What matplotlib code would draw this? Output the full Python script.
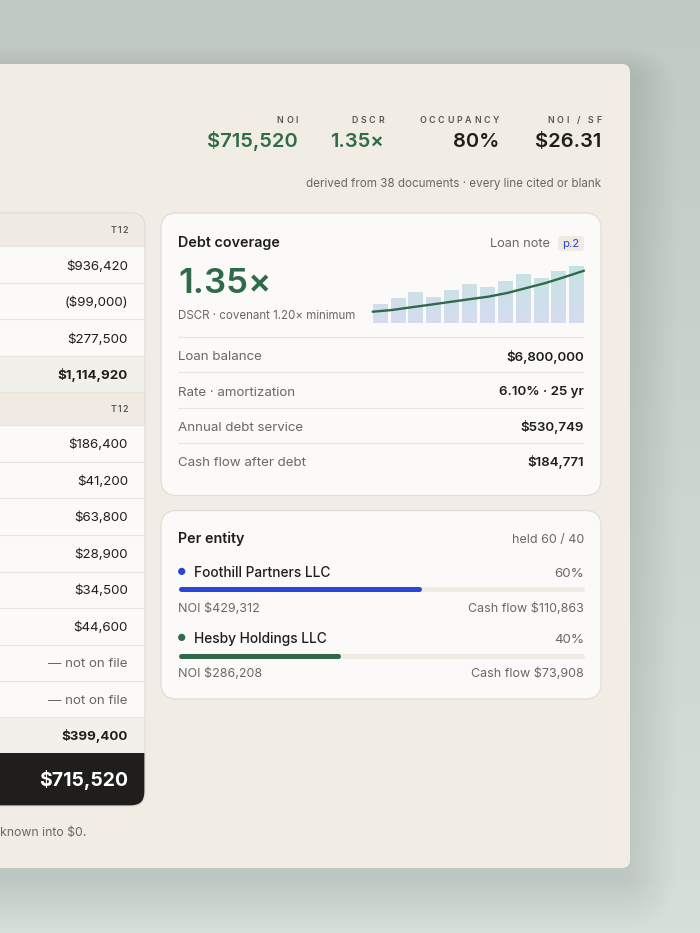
import numpy as np
import matplotlib
matplotlib.use("Agg")
import matplotlib.pyplot as plt
from matplotlib.patches import FancyBboxPatch, Rectangle, Circle
from matplotlib.font_manager import FontProperties

plt.rcParams['font.family'] = ['Inter', 'DejaVu Sans']

# ---- data ----
kpi_labels = ["NOI", "DSCR", "OCCUPANCY", "NOI / SF"]
kpi_values = ["$715,520", "1.35×", "80%", "$26.31"]
kpi_note = "derived from 38 documents · every line cited or blank"

income_values = ["$936,420", "($99,000)", "$277,500"]
income_total = "$1,114,920"
expense_values = ["$186,400", "$41,200", "$63,800", "$28,900", "$34,500",
                  "$44,600", "— not on file", "— not on file"]
expense_total = "$399,400"
noi_total = "$715,520"
period_label = "T12"
footnote = "known into $0."

dscr_value = "1.35×"
dscr_caption = "DSCR · covenant 1.20× minimum"
spark_bars = [19, 24.7, 31.3, 26, 33, 39.3, 35.7, 42.3, 49, 45, 52.3, 57.3]
spark_trend = [11.3, 13, 15.7, 18.3, 21, 23.7, 26.3, 30, 35, 40, 46, 52.3]
debt_labels = ["Loan balance", "Rate · amortization", "Annual debt service",
               "Cash flow after debt"]
debt_values = ["$6,800,000", "6.10% · 25 yr", "$530,749", "$184,771"]

entity_names = ["Foothill Partners LLC", "Hesby Holdings LLC"]
entity_share = [60, 40]
entity_noi = ["$429,312", "$286,208"]
entity_cash = ["$110,863", "$73,908"]

# ---- colours ----
panel_c = "#f1ede4"
card_c = "#fbfaf8"
edge_c = "#e2ded5"
head_c = "#efebe2"
sub_c = "#f2f0eb"
rule_c = "#e8e5de"
dark_c = "#1f1e1c"
green = "#2f6b48"
ink = "#1e1e1c"
muted = "#6a6863"
label_c = "#58564f"
blue = "#2b46d6"

fig = plt.figure(figsize=(7, 9.33), dpi=100)
ax = fig.add_axes([0, 0, 1, 1])
ax.set_xlim(0, 700)
ax.set_ylim(933, 0)
ax.axis('off')
rend = fig.canvas.get_renderer()

# background gradient
g = np.linspace(0, 1, 200)[:, None, None]
top = np.array([192, 202, 197]) / 255
bot = np.array([215, 223, 218]) / 255
bg = top + (bot - top) * g
bg = np.repeat(bg, 2, axis=1)
ax.imshow(bg, extent=[0, 700, 933, 0], aspect='auto', zorder=0)


def rbox(x0, y0, x1, y1, r, fc, ec='none', lw=0, z=1, alpha=1):
    p = FancyBboxPatch((x0, y0), x1 - x0, y1 - y0,
                       boxstyle=f"round,pad=0,rounding_size={r}",
                       fc=fc, ec=ec, lw=lw, zorder=z, alpha=alpha)
    ax.add_patch(p)
    return p


def rect(x0, y0, x1, y1, fc, z=2):
    ax.add_patch(Rectangle((x0, y0), x1 - x0, y1 - y0, fc=fc, ec='none', zorder=z))


def hline(x0, x1, y, c=rule_c, z=3):
    ax.plot([x0, x1], [y, y], color=c, lw=0.8, zorder=z, solid_capstyle='butt')


def txt(x, y, s, size, color=ink, ha='left', weight='normal', z=5):
    ax.text(x, y, s, fontsize=size, color=color, ha=ha, va='baseline',
            fontweight=weight, zorder=z)


def spaced(x_right, y, s, size, gap, color=label_c, weight='semibold'):
    fp = FontProperties(family=['Inter', 'DejaVu Sans'], size=size, weight=weight)
    widths = [rend.get_text_width_height_descent(ch, fp, ismath=False)[0] for ch in s]
    x = x_right - (sum(widths) + gap * (len(s) - 1))
    for ch, w in zip(s, widths):
        ax.text(x, y, ch, fontproperties=fp, color=color, ha='left',
                va='baseline', zorder=5)
        x += w + gap


# soft panel shadow + panel
for i in range(22):
    e = 2.2 * i
    rbox(-40 - e, 64 + 10 - e * 0.6, 630 + e, 868 + 14 + e, 8 + e,
         fc="#3f5048", z=1, alpha=0.0055)
rbox(-40, 64, 630, 868, 8, panel_c, z=2)

# ---- KPI header ----
kpi_right = [298, 384, 499, 601]
kpi_colors = [green, green, ink, ink]
for xr, lab, val, col in zip(kpi_right, kpi_labels, kpi_values, kpi_colors):
    spaced(xr, 123.3, lab, 6.4, 2.7)
    txt(xr, 147.3, val, 14.5, col, ha='right', weight='semibold')
txt(601, 187.5, kpi_note, 8.4, muted, ha='right')

# ---- left statement table ----
tx = 128
rbox(-40, 213, 145, 806, 14, card_c, z=3)
rbox(-40, 213, 145, 262, 14, head_c, z=3.1)
rect(-40, 246, 145, 262, card_c, z=3.2)
bounds = [213, 246, 282.7, 319.3, 355.7, 392.3, 425, 461.7, 498.3, 535,
          571.7, 608.3, 644.5, 680.5, 717, 753.3, 806]
rect(-40, 355.7, 145, 392.3, sub_c, z=3.3)
rect(-40, 392.3, 145, 425, head_c, z=3.3)
rect(-40, 717, 145, 753.3, sub_c, z=3.3)
for yb in bounds[1:-2]:
    hline(-40, 145, yb, z=3.5)
# dark NOI row with rounded bottom-right corner
rbox(-40, 753.3, 145, 806, 14, dark_c, z=3.6)
rect(-40, 753.3, 145, 775, dark_c, z=3.7)
rbox(-40, 213, 145, 806, 14, 'none', ec=edge_c, lw=0.9, z=3.8)

spaced(tx, 233, period_label, 6.3, 1.2)
for i, v in enumerate(income_values):
    txt(tx, 270 + i * 36.5, v, 9.6, ink, ha='right')
txt(tx, 378.5, income_total, 9.6, ink, ha='right', weight='bold')
spaced(tx, 411.7, period_label, 6.3, 1.2)
for i, v in enumerate(expense_values):
    col = muted if v.startswith("—") else ink
    txt(tx, 448 + i * 36.55, v, 9.6, col, ha='right')
txt(tx, 740, expense_total, 9.6, ink, ha='right', weight='bold')
txt(tx, 786.5, noi_total, 14, "white", ha='right', weight='bold', z=6)
txt(0, 836, footnote, 8.8, muted)

# ---- Debt coverage card ----
cx0, cx1 = 178, 584
rbox(161, 213, 601, 495.5, 16, card_c, ec=edge_c, lw=0.9, z=3)
txt(cx0, 247, "Debt coverage", 10.3, ink, weight='semibold')
txt(550, 247, "Loan note", 9.2, muted, ha='right')
rbox(558, 236, 584, 251, 4, head_c, z=4)
txt(571, 247, "p.2", 8.2, blue, ha='center')
txt(cx0, 293.3, dscr_value, 25, green, weight='semibold')
txt(cx0, 319, dscr_caption, 8.3, muted)
hline(cx0, cx1, 336.7)
row_base = [360.5, 395.5, 431, 466]
for i, (lab, val) in enumerate(zip(debt_labels, debt_values)):
    txt(cx0, row_base[i], lab, 9.6, muted)
    txt(cx1, row_base[i], val, 9.6, ink, ha='right', weight='semibold')
for yl in [372.3, 407.7, 443.3]:
    hline(cx0, cx1, yl)

# sparkline inset
sl, sr, sb, stp = 371.1, 585.6, 323, 265
sax = fig.add_axes([sl / 700, (933 - sb) / 933, (sr - sl) / 700, (sb - stp) / 933])
sax.set_xlim(-0.5, 11.5)
sax.set_ylim(0, 58)
sax.axis('off')
sax.patch.set_alpha(0)
xs = np.arange(len(spark_bars))
bars = sax.bar(xs, spark_bars, width=0.82, color='none', zorder=1)
grad_top = np.array([197, 228, 226]) / 255
grad_bot = np.array([214, 220, 240]) / 255
gg = np.linspace(0, 1, 64)[:, None, None]
gimg = grad_top + (grad_bot - grad_top) * gg
for b in bars:
    im = sax.imshow(gimg, extent=[b.get_x(), b.get_x() + b.get_width(), 0, 58],
                    aspect='auto', origin='upper', zorder=1)
    im.set_clip_path(b)
sax.plot(np.linspace(-0.41, 11.41, len(spark_trend)), spark_trend, color=green,
         lw=1.7, solid_capstyle='round', zorder=3)

# ---- Per entity card ----
rbox(161, 510.5, 601, 699, 16, card_c, ec=edge_c, lw=0.9, z=3)
txt(cx0, 543.5, "Per entity", 10.3, ink, weight='semibold')
txt(cx1, 543.5, "held 60 / 40", 9.0, muted, ha='right')
ent_colors = [blue, green]
name_base = [576.7, 642.7]
track_y = [589, 656]
noi_base = [611.7, 677.3]
for i in range(2):
    ax.add_patch(Circle((181.7, name_base[i] - 5.3), 3.6, fc=ent_colors[i],
                        ec='none', zorder=5))
    txt(194, name_base[i], entity_names[i], 9.9, ink, weight='medium')
    txt(cx1, name_base[i], f"{entity_share[i]}%", 9.6, muted, ha='right')
    ax.plot([cx0 + 2.5, cx1 - 2.5], [track_y[i]] * 2, color="#efebe3", lw=3.6,
            solid_capstyle='round', zorder=4)
    fill_end = cx0 + (cx1 - cx0) * entity_share[i] / 100
    ax.plot([cx0 + 2.5, fill_end - 2.5], [track_y[i]] * 2, color=ent_colors[i],
            lw=3.6, solid_capstyle='round', zorder=4.5)
    txt(cx0, noi_base[i], f"NOI {entity_noi[i]}", 9.0, muted)
    txt(cx1, noi_base[i], f"Cash flow {entity_cash[i]}", 9.0, muted, ha='right')

fig.savefig("out.png", dpi=100)
